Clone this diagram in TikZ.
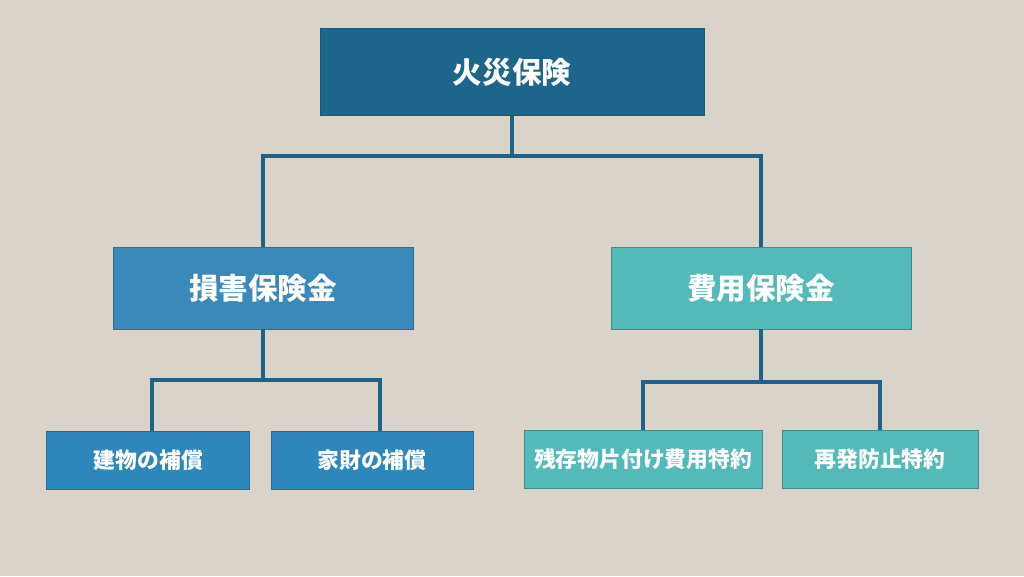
\documentclass[tikz,border=0pt]{standalone}
\usepackage{fontspec}
\newfontfamily\jpfont{Noto Sans CJK JP}
\usetikzlibrary{positioning,calc}
\definecolor{bgbeige}{RGB}{217,211,202}
\definecolor{navyblue}{RGB}{30,101,140}
\definecolor{midblue}{RGB}{58,137,186}
\definecolor{lowblue}{RGB}{46,135,186}
\definecolor{tealgreen}{RGB}{84,185,185}
\definecolor{linkblue}{RGB}{31,97,135}

\begin{document}
\begin{tikzpicture}[
  box/.style={rectangle, inner sep=0pt, text=white, font=\jpfont\bfseries,
    line width=0.6pt},
  topbox/.style={box, fill=navyblue, draw=navyblue!85!black,
    minimum width=9.6cm, minimum height=2.175cm, font=\jpfont\bfseries\fontsize{21}{25}\selectfont},
  midbox/.style={box, minimum width=7.5cm, minimum height=2.05cm,
    font=\jpfont\bfseries\fontsize{21}{25}\selectfont},
  lowbox/.style={box, minimum height=1.45cm,
    font=\jpfont\bfseries\fontsize{15.5}{18}\selectfont},
  link/.style={linkblue, line width=2.8pt},
]
  \useasboundingbox[fill=bgbeige] (0,0) rectangle (25.6,14.4);

  % Top
  \node[topbox] (fire) at (12.8, 12.59) {火災保険};

  % Second level
  \node[midbox, fill=midblue, draw=midblue!80!black] (damage) at (6.575, 7.2) {損害保険金};
  \node[midbox, fill=tealgreen, draw=tealgreen!75!black] (cost) at (19.025, 7.2) {費用保険金};

  % Third level
  \node[lowbox, fill=lowblue, draw=lowblue!80!black, minimum width=5.075cm] (build) at (3.71, 2.9) {建物の補償};
  \node[lowbox, fill=lowblue, draw=lowblue!80!black, minimum width=5.05cm] (goods) at (9.3, 2.9) {家財の補償};
  \node[lowbox, fill=tealgreen, draw=tealgreen!75!black, minimum width=5.95cm] (debris) at (16.075, 2.925) {残存物片付け費用特約};
  \node[lowbox, fill=tealgreen, draw=tealgreen!75!black, minimum width=4.9cm] (prevent) at (22.0, 2.925) {再発防止特約};

  % Bus points
  \coordinate (busA) at (fire.south |- 0,10.5);
  \coordinate (busB) at (damage.south |- 0,4.9);
  \coordinate (busC) at (cost.south |- 0,4.85);

  % Links
  \draw[link] (fire.south) -- (busA);
  \draw[link] (damage.north) |- (busA) -| (cost.north);
  \draw[link] (damage.south) -- (busB);
  \draw[link] ([xshift=0.1cm]build.north) |- (busB) -| ([xshift=0.2cm]goods.north);
  \draw[link] (cost.south) -- (busC);
  \draw[link] (debris.north) |- (busC) -| (prevent.north);
\end{tikzpicture}
\end{document}
